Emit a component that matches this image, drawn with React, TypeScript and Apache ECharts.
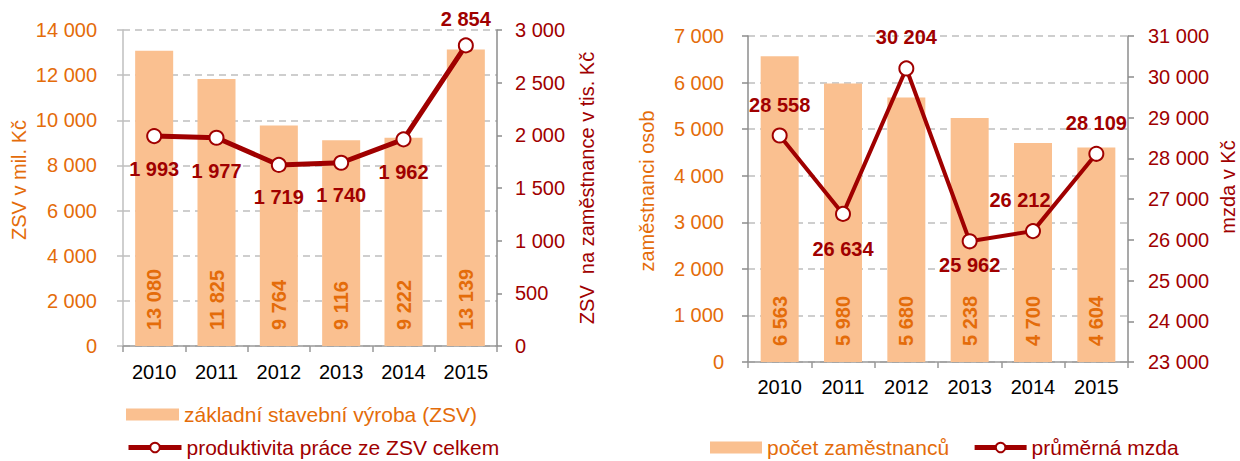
import React, { useEffect, useRef } from "react";
import * as echarts from "echarts";

const years = ["2010", "2011", "2012", "2013", "2014", "2015"];
const zsvValues = [13080, 11825, 9764, 9116, 9222, 13139];
const productivityValues = [1993, 1977, 1719, 1740, 1962, 2854];
const employeeValues = [6563, 5980, 5680, 5238, 4700, 4604];
const wageValues = [28558, 26634, 30204, 25962, 26212, 28109];

const zsvName = "základní stavební výroba (ZSV)";
const productivityName = "produktivita práce ze ZSV celkem";
const employeeName = "počet zaměstnanců";
const wageName = "průměrná mzda";

const leftTitle1 = "ZSV v mil. Kč";
const rightTitle1 = "ZSV  na zaměstnance v tis. Kč";
const leftTitle2 = "zaměstnanci osob";
const rightTitle2 = "mzda v Kč";

// label placement per point (kept apart from the values)
const productivityLabelPos = [
  { position: "bottom", distance: 15 },
  { position: "bottom", distance: 15 },
  { position: "bottom", distance: 14 },
  { position: "bottom", distance: 14 },
  { position: "bottom", distance: 15 },
  { position: "top", distance: 8 },
];
const wageLabelPos = [
  { position: "top", distance: 13 },
  { position: "bottom", distance: 17 },
  { position: "top", distance: 13 },
  { position: "bottom", distance: 6 },
  { position: "top", distance: 13, offset: [-13, 0] },
  { position: "top", distance: 13 },
];

const ORANGE = "#E46C0A";
const BAR = "#FAC090";
const RED = "#A00000";
const FONT = "'Liberation Sans', Arial, sans-serif";

const fmt = (v: number | string) =>
  String(v).replace(/\B(?=(\d{3})+(?!\d))/g, " ");

export default function App() {
  const ref = useRef<HTMLDivElement>(null);

  useEffect(() => {
    if (!ref.current) return;
    const chart = echarts.init(ref.current, undefined, { renderer: "svg" });

    const splitLine = {
      show: true,
      lineStyle: { color: "#BFBFBF", width: 1.5, type: [7, 5] as any },
    };
    const axisLineGrey = (c: string) => ({
      show: true,
      lineStyle: { color: c, width: 1.5 },
    });

    const legendBase = {
      orient: "horizontal",
      selectedMode: false,
      padding: 0,
      itemHeight: 12,
      textStyle: { fontSize: 21, fontFamily: FONT },
    };

    const barLabel = {
      show: true,
      position: "insideBottom",
      distance: 16,
      rotate: 90,
      align: "left",
      verticalAlign: "middle",
      color: ORANGE,
      fontSize: 20,
      fontWeight: "bold",
      fontFamily: FONT,
      formatter: (p: any) => fmt(p.value),
    };
    const lineLabel = {
      show: true,
      color: RED,
      fontSize: 20,
      fontWeight: "bold",
      fontFamily: FONT,
      formatter: (p: any) => fmt(p.value),
    };

    const option: any = {
      animation: false,
      textStyle: { fontFamily: FONT },
      grid: [
        { left: 123, top: 30, width: 374, height: 316 },
        { left: 748, top: 36, width: 380, height: 326 },
      ],
      xAxis: [
        {
          type: "category",
          gridIndex: 0,
          data: years,
          axisLine: axisLineGrey("#999999"),
          axisTick: { show: true, length: 6, lineStyle: { color: "#999999", width: 1.5 } },
          axisLabel: { color: "#000", fontSize: 20, margin: 16, fontFamily: FONT },
        },
        {
          type: "category",
          gridIndex: 1,
          data: years,
          axisLine: axisLineGrey("#999999"),
          axisTick: { show: true, length: 6, lineStyle: { color: "#999999", width: 1.5 } },
          axisLabel: { color: "#000", fontSize: 20, margin: 15, fontFamily: FONT },
        },
      ],
      yAxis: [
        {
          type: "value",
          gridIndex: 0,
          min: 0,
          max: 14000,
          interval: 2000,
          axisLine: axisLineGrey("#BFBFBF"),
          axisTick: { show: true, length: 6, lineStyle: { color: "#BFBFBF", width: 1.5 } },
          axisLabel: { color: ORANGE, fontSize: 20, margin: 26, formatter: fmt, fontFamily: FONT },
          splitLine,
        },
        {
          type: "value",
          gridIndex: 0,
          position: "right",
          min: 0,
          max: 3000,
          interval: 500,
          axisLine: axisLineGrey("#8C8C8C"),
          axisTick: { show: true, length: 5, lineStyle: { color: "#8C8C8C", width: 1.5 } },
          axisLabel: { color: RED, fontSize: 20, margin: 18, formatter: fmt, fontFamily: FONT },
          splitLine: { show: false },
        },
        {
          type: "value",
          gridIndex: 1,
          min: 0,
          max: 7000,
          interval: 1000,
          axisLine: axisLineGrey("#8C8C8C"),
          axisTick: { show: true, length: 6, lineStyle: { color: "#8C8C8C", width: 1.5 } },
          axisLabel: { color: ORANGE, fontSize: 20, margin: 24, formatter: fmt, fontFamily: FONT },
          splitLine,
        },
        {
          type: "value",
          gridIndex: 1,
          position: "right",
          min: 23000,
          max: 31000,
          interval: 1000,
          axisLine: axisLineGrey("#8C8C8C"),
          axisTick: { show: true, length: 6, lineStyle: { color: "#8C8C8C", width: 1.5 } },
          axisLabel: { color: RED, fontSize: 20, margin: 20, formatter: fmt, fontFamily: FONT },
          splitLine: { show: false },
        },
      ],
      legend: [
        {
          ...legendBase,
          left: 126,
          top: 404,
          itemWidth: 53,
          data: [{ name: zsvName, icon: "rect", textStyle: { color: ORANGE } }],
        },
        {
          ...legendBase,
          left: 126,
          top: 437,
          itemWidth: 53,
          data: [
            {
              name: productivityName,
              textStyle: { color: RED },
              lineStyle: { width: 5, color: RED },
            },
          ],
        },
        {
          ...legendBase,
          left: 710,
          top: 437,
          itemWidth: 52,
          itemGap: 23,
          data: [
            { name: employeeName, icon: "rect", textStyle: { color: ORANGE } },
            {
              name: wageName,
              textStyle: { color: RED },
              lineStyle: { width: 5, color: RED },
            },
          ],
        },
      ],
      series: [
        {
          name: zsvName,
          type: "bar",
          xAxisIndex: 0,
          yAxisIndex: 0,
          data: zsvValues,
          barWidth: "61%",
          itemStyle: { color: BAR },
          label: barLabel,
        },
        {
          name: productivityName,
          type: "line",
          xAxisIndex: 0,
          yAxisIndex: 1,
          z: 5,
          data: productivityValues.map((v, i) => ({
            value: v,
            label: productivityLabelPos[i],
          })),
          symbol: "circle",
          symbolSize: 14,
          lineStyle: { color: RED, width: 5 },
          itemStyle: { color: "#FFFFFF", borderColor: RED, borderWidth: 2 },
          label: lineLabel,
        },
        {
          name: employeeName,
          type: "bar",
          xAxisIndex: 1,
          yAxisIndex: 2,
          data: employeeValues,
          barWidth: "60%",
          itemStyle: { color: BAR },
          label: barLabel,
        },
        {
          name: wageName,
          type: "line",
          xAxisIndex: 1,
          yAxisIndex: 3,
          z: 5,
          data: wageValues.map((v, i) => ({
            value: v,
            label: wageLabelPos[i],
          })),
          symbol: "circle",
          symbolSize: 14,
          lineStyle: { color: RED, width: 4 },
          itemStyle: { color: "#FFFFFF", borderColor: RED, borderWidth: 2 },
          label: lineLabel,
        },
      ],
      graphic: [
        {
          type: "text",
          x: 19,
          y: 180,
          rotation: Math.PI / 2,
          style: { text: leftTitle1, fill: ORANGE, fontSize: 20, fontFamily: FONT, align: "center", verticalAlign: "middle" },
        },
        {
          type: "text",
          x: 587,
          y: 188,
          rotation: Math.PI / 2,
          style: { text: rightTitle1, fill: RED, fontSize: 20, fontFamily: FONT, align: "center", verticalAlign: "middle" },
        },
        {
          type: "text",
          x: 647,
          y: 191,
          rotation: Math.PI / 2,
          style: { text: leftTitle2, fill: ORANGE, fontSize: 20, fontFamily: FONT, align: "center", verticalAlign: "middle" },
        },
        {
          type: "text",
          x: 1228,
          y: 187,
          rotation: Math.PI / 2,
          style: { text: rightTitle2, fill: RED, fontSize: 20, fontFamily: FONT, align: "center", verticalAlign: "middle" },
        },
      ],
    };

    chart.setOption(option);
    return () => chart.dispose();
  }, []);

  return (
    <div
      ref={ref}
      style={{ position: "absolute", left: 0, top: 0, width: 1240, height: 461, background: "#fff" }}
    />
  );
}
